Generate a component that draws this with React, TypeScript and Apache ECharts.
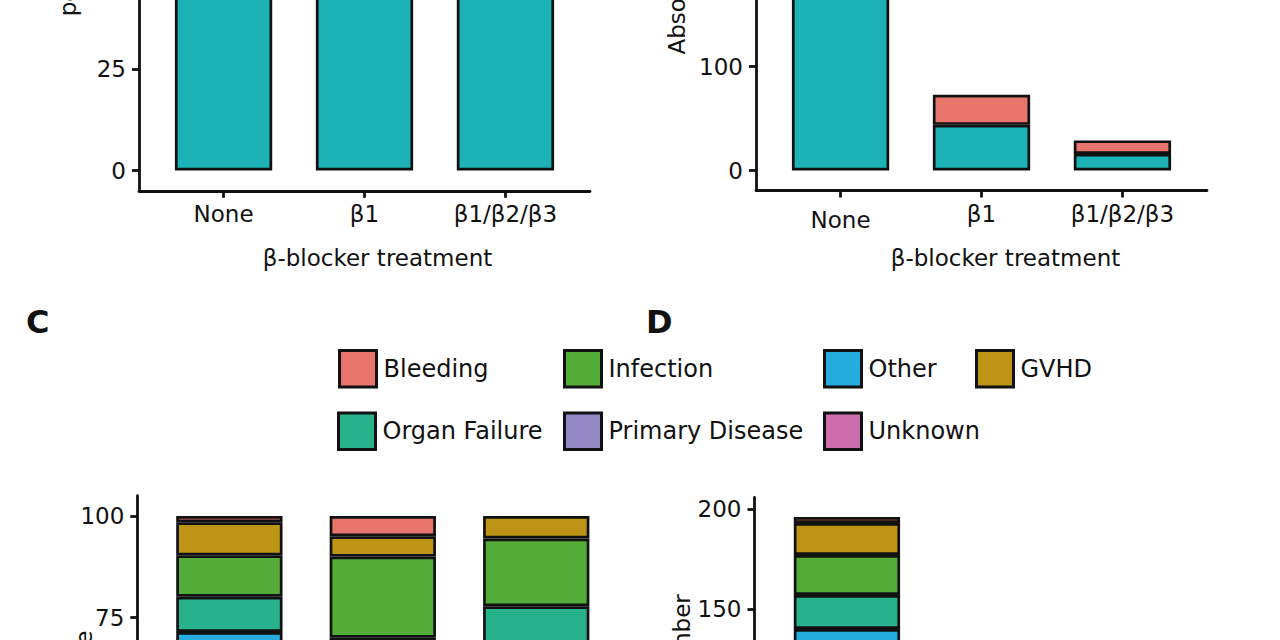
import React, { useEffect, useRef } from "react";
import * as echarts from "echarts";

// ---------- data ----------
const treatments = ["None", "β1", "β1/β2/β3"];

// Panel B: absolute numbers per β-blocker group (lower teal segment, upper salmon segment)
const groupNames = ["Group lower", "Group upper"];
const groupLower = [190, 44, 16];
const groupUpper = [195, 29, 13];

// Panels C / D: causes of death (factor order, first = top of stack)
const causes = ["Bleeding", "GVHD", "Infection", "Organ Failure", "Other", "Primary Disease", "Unknown"];
const causeColors = ["#E8756B", "#BE9417", "#53AC38", "#27B28C", "#25ADE0", "#9488C5", "#CC6CAA"];
const deathsNone = [3, 16, 20, 17, 19, 105, 16];
const deathsBeta1 = [1, 1, 4, 2, 2, 9, 1];
const deathsBeta123 = [0, 1, 3, 2, 2, 9, 1];

const percentTicks = [0, 25, 50, 75, 100];
const absTicksB = [0, 100, 200, 300, 400];
const absTicksD = [0, 50, 100, 150, 200];

const legendRow1 = ["Bleeding", "Infection", "Other", "GVHD"];
const legendRow2 = ["Organ Failure", "Primary Disease", "Unknown"];

const groupColors = ["#1DB2B5", "#E8756B"];

// ---------- layout ----------
const OFF = 300; // chart is shifted up so that the visible window starts at y = OFF
const FONT = "DejaVu Sans";
const INK = "#111";

export default function App() {
  const ref = useRef<HTMLDivElement>(null);

  useEffect(() => {
    if (!ref.current) return;
    const chart = echarts.init(ref.current, undefined, { renderer: "svg" });

    const positions = [1, 2, 3];
    const groupTotals = groupLower.map((v, i) => v + groupUpper[i]);
    const pctLower = groupLower.map((v, i) => (v / groupTotals[i]) * 100);
    const pctUpper = groupUpper.map((v, i) => (v / groupTotals[i]) * 100);

    const deathTable = [deathsNone, deathsBeta1, deathsBeta123];
    const deathTotals = deathTable.map((r) => r.reduce((a, b) => a + b, 0));

    const maxB = Math.max(...groupTotals);
    const maxD = Math.max(...deathTotals);

    const text = { fontFamily: FONT, fontSize: 23, color: INK };

    const xAxisBase = (gridIndex: number, withTitle: boolean, padLeft: number, lowNone: boolean) => ({
      type: "value",
      gridIndex,
      min: 0.4,
      max: 3.6,
      splitLine: { show: false },
      axisLine: { show: true, onZero: false, lineStyle: { color: INK, width: 2.8 } },
      axisTick: { show: true, length: 7, lineStyle: { color: INK, width: 2.8 }, customValues: positions },
      axisLabel: {
        show: true,
        margin: 12,
        customValues: positions,
        ...text,
        formatter: (v: number) => {
          const i = Math.round(v) - 1;
          const s = treatments[i] ?? "";
          return lowNone && i === 0 ? `{low|${s}}` : s;
        },
        rich: { low: { ...text, padding: [6, 0, 0, 0] } },
      },
      name: withTitle ? "β-blocker treatment" : "",
      nameLocation: "middle",
      nameGap: 56,
      nameMoveOverlap: false,
      nameTextStyle: { ...text, padding: [0, 0, 0, padLeft] },
    });

    const yAxisBase = (
      gridIndex: number,
      min: number,
      max: number,
      ticks: number[],
      name: string,
      gap: number,
      pad: number[]
    ) => ({
      type: "value",
      gridIndex,
      min,
      max,
      splitLine: { show: false },
      axisLine: { show: true, lineStyle: { color: INK, width: 2.8 } },
      axisTick: { show: true, length: 7, lineStyle: { color: INK, width: 2.8 }, customValues: ticks },
      axisLabel: { show: true, margin: 13, customValues: ticks, ...text },
      name,
      nameLocation: "middle",
      nameGap: gap,
      nameMoveOverlap: false,
      nameTextStyle: { ...text, padding: pad },
    });

    const barStyle = (color: string) => ({ color, borderColor: INK, borderWidth: 2.7 });

    // data items are [value, position]; dimension 0 is the stacked (y) dimension
    const barSeries = (name: string, axis: number, stack: string, width: number, color: string, vals: (number | null)[]) => ({
      type: "bar",
      name,
      xAxisIndex: axis,
      yAxisIndex: axis,
      stack,
      barWidth: width,
      encode: { x: 1, y: 0 },
      itemStyle: barStyle(color),
      data: positions.map((p, i) => [vals[i], p]),
    });

    const series: any[] = [];
    series.push(barSeries(groupNames[0], 0, "A", 97.3, groupColors[0], pctLower));
    series.push(barSeries(groupNames[1], 0, "A", 97.3, groupColors[1], pctUpper));
    series.push(barSeries(groupNames[0], 1, "B", 97.3, groupColors[0], groupLower));
    series.push(barSeries(groupNames[1], 1, "B", 97.3, groupColors[1], groupUpper));
    for (let c = causes.length - 1; c >= 0; c--) {
      const pct = deathTable.map((r, i) => (r[c] ? (r[c] / deathTotals[i]) * 100 : null));
      series.push(barSeries(causes[c], 2, "C", 106.3, causeColors[c], pct));
    }
    for (let c = causes.length - 1; c >= 0; c--) {
      const cnt = deathTable.map((r) => (r[c] ? r[c] : null));
      series.push(barSeries(causes[c], 3, "D", 106.3, causeColors[c], cnt));
    }

    const legendLeft1 = [338, 563, 823, 975];
    const legendLeft2 = [337, 563, 823];
    const legends: any[] = [];
    const addLegend = (name: string, left: number, top: number) =>
      legends.push({
        data: [name],
        left,
        top: top + OFF,
        padding: 0,
        orient: "horizontal",
        icon: "rect",
        itemWidth: 37,
        itemHeight: 36.5,
        selectedMode: false,
        itemStyle: { borderColor: INK, borderWidth: 3 },
        textStyle: { fontFamily: FONT, fontSize: 24, color: INK, padding: [0, 0, 0, 2] },
      });
    legendRow1.forEach((n, i) => addLegend(n, legendLeft1[i], 349));
    legendRow2.forEach((n, i) => addLegend(n, legendLeft2[i], 411.5));

    chart.setOption({
      animation: false,
      backgroundColor: "#fff",
      grid: [
        { left: 139, top: -255.2 + OFF, width: 451, height: 446, outerBoundsMode: "none", containLabel: false },
        { left: 756, top: -249.1 + OFF, width: 451, height: 439.6, outerBoundsMode: "none", containLabel: false },
        { left: 137.3, top: 495.7 + OFF, width: 491, height: 446.6, outerBoundsMode: "none", containLabel: false },
        { left: 754.5, top: 497.4 + OFF, width: 493, height: 431.2, outerBoundsMode: "none", containLabel: false },
      ],
      xAxis: [
        xAxisBase(0, true, 26, false),
        xAxisBase(1, true, 48, true),
        xAxisBase(2, true, 0, false),
        xAxisBase(3, true, 0, false),
      ],
      yAxis: [
        yAxisBase(0, -5, 105, percentTicks, "percentage", 60, [0, 0, 0, 34]),
        yAxisBase(1, -0.05 * maxB, 1.05 * maxB, absTicksB, "Absolute number", 68, [0, 0, 0, 30]),
        yAxisBase(2, -5, 105, percentTicks, "percentage", 42, [0, 0, 0, 46]),
        yAxisBase(3, -0.05 * maxD, 1.05 * maxD, absTicksD, "Absolute number", 61, [0, 0, 0, 40]),
      ],
      legend: legends,
      graphic: [
        {
          type: "text",
          left: 26,
          top: 306 + OFF,
          style: { text: "C", fontFamily: FONT, fontWeight: "bold", fontSize: 32, fill: INK },
        },
        {
          type: "text",
          left: 646,
          top: 306 + OFF,
          style: { text: "D", fontFamily: FONT, fontWeight: "bold", fontSize: 32, fill: INK },
        },
      ],
      series,
    });

    return () => chart.dispose();
  }, []);

  return (
    <div
      style={{
        position: "absolute",
        left: 0,
        top: 0,
        width: 1280,
        height: 640,
        overflow: "hidden",
        background: "#fff",
      }}
    >
      <div ref={ref} style={{ position: "absolute", left: 0, top: -OFF, width: 1280, height: 1400 }} />
    </div>
  );
}
